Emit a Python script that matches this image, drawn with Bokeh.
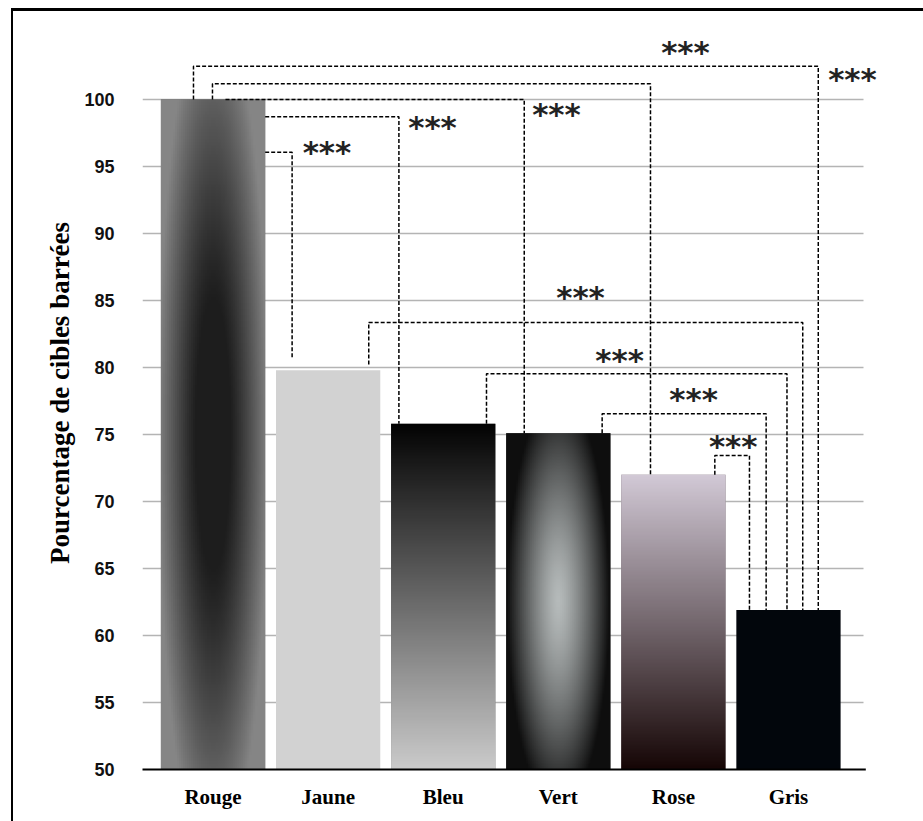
import numpy as np
from bokeh.plotting import figure
from bokeh.models import Range1d, FixedTicker, LabelSet, ColumnDataSource
from bokeh.core.properties import value
from bokeh.embed import file_html
from bokeh.resources import INLINE

# ---------------- data ----------------
categories = ["Rouge", "Jaune", "Bleu", "Vert", "Rose", "Gris"]
values = [100.0, 79.8, 75.8, 75.1, 72.0, 61.9]
y_ticks = [50, 55, 60, 65, 70, 75, 80, 85, 90, 95, 100]
# pairwise comparisons (index pairs) and their significance marks
comparisons = [(0, 1), (0, 2), (0, 3), (0, 4), (0, 5), (1, 5), (2, 5), (3, 5), (4, 5)]
sig_marks = ["***", "***", "***", "***", "***", "***", "***", "***", "***"]

# ---------------- layout / style ----------------
BAR_W = 0.906
BASE = 50
PX_PER_UNIT = 13.4
# bracket geometry: (dx_left from bar i, left bottom, top, dx_right from bar j, right bottom)
bracket_geom = [
    (0.453, "top", 96.07, -0.313, 80.67),
    (0.453, "top", 98.72, -0.385, None),
    (0.108, "top", 100.0, -0.296, None),
    (-0.005, None, 101.17, -0.199, None),
    (-0.170, None, 102.49, 0.259, None),
    (0.353, 80.22, 83.36, 0.124, None),
    (0.376, None, 79.53, -0.013, None),
    (0.381, None, 76.54, -0.194, None),
    (0.360, None, 73.43, -0.339, None),
]
mark_pos = [(0.990, 96.31), (1.907, 98.18), (2.984, 99.15), (4.105, 103.78), (5.556, 101.76),
            (3.193, 85.52), (3.532, 80.82), (4.175, 77.84), (4.520, 74.40)]

flat_colors = ["#4a4a4a", "#d2d2d2", "#6a6a6a", "#5a5a5a", "#756a70", "#02060c"]


def pack(r, g, b):
    ny, nx = r.shape
    img = np.empty((ny, nx), dtype=np.uint32)
    v = img.view(dtype=np.uint8).reshape((ny, nx, 4))
    v[:, :, 0] = np.clip(r, 0, 255)
    v[:, :, 1] = np.clip(g, 0, 255)
    v[:, :, 2] = np.clip(b, 0, 255)
    v[:, :, 3] = 255
    return img


def gradient(kind, nx=52, ny=220):
    s = np.linspace(-1, 1, nx)[None, :]
    t = np.linspace(0, 1, ny)[:, None]
    S = np.repeat(s, ny, axis=0)
    T = np.repeat(t, nx, axis=1)
    if kind == "radial_dark":
        r = np.sqrt(S ** 2 + ((T - 0.5) / 0.6) ** 2)
        f = np.clip((r - 0.33) / 0.75, 0, 1) ** 1.15
        c = 0x1d + (0x85 - 0x1d) * f
        return pack(c, c, c)
    if kind == "radial_light":
        r = np.sqrt(S ** 2 + ((T - 0.5) / 0.62) ** 2)
        f = np.clip(r, 0, 1) ** 1.35
        r_ = 0xb6 * (1 - f) + 0x0e * f
        g_ = 0xbb * (1 - f) + 0x0e * f
        b_ = 0xbb * (1 - f) + 0x0e * f
        return pack(r_, g_, b_)
    if kind == "linear_bleu":
        c = 0xcb + (0x03 - 0xcb) * T
        return pack(c, c, c)
    if kind == "linear_rose":
        top = np.array([0xd3, 0xca, 0xd7])
        bot = np.array([0x16, 0x06, 0x06])
        ch = [bot[k] + (top[k] - bot[k]) * T for k in range(3)]
        return pack(*ch)
    return None


gradients = ["radial_dark", None, "linear_bleu", "radial_light", "linear_rose", None]

idx = list(range(len(categories)))
X0, X1 = -0.613, 5.652          # extent of the gridded area
y_top = BASE + (769 - 14) / PX_PER_UNIT
y_bot = BASE - 2 / PX_PER_UNIT

p = figure(width=910, height=810, output_backend="svg", toolbar_location=None,
           x_range=Range1d(X0, 5.930), y_range=Range1d(y_bot, y_top),
           min_border_left=129, min_border_right=28, min_border_top=3, min_border_bottom=50,
           frame_width=753, frame_height=757)
p.outline_line_color = None
p.background_fill_color = "white"
p.border_fill_color = "white"
p.styles = {"margin-left": "11px", "margin-top": "8px",
            "border-top": "3px solid black", "border-left": "2px solid black"}

# horizontal gridlines (limited to the chart area)
p.segment(x0=X0, x1=X1, y0=y_ticks[1:], y1=y_ticks[1:], line_color="#b4b4b4", line_width=1.5)

# bars
src = ColumnDataSource(dict(x=idx, top=values, color=flat_colors))
p.vbar(x="x", top="top", bottom=BASE, width=BAR_W, fill_color="color", line_color=None, source=src)
for i, (v, g) in enumerate(zip(values, gradients)):
    if g is None:
        continue
    img = gradient(g)
    p.image_rgba(image=[img], x=i - BAR_W / 2, y=BASE, dw=BAR_W, dh=v - BASE)

# baseline (x axis line)
p.segment(x0=X0 - 0.02, x1=X1 + 0.02, y0=BASE, y1=BASE, line_color="black", line_width=2)

# brackets
xs, ys = [], []
for (i, j), (dxl, lb, top, dxr, rb) in zip(comparisons, bracket_geom):
    xl = i + dxl
    xr = j + dxr
    if lb == "top":
        lb_v = top
    elif lb is None:
        lb_v = values[i]
    else:
        lb_v = lb
    rb_v = values[j] if rb is None else rb
    xs.append([xl, xl, xr, xr])
    ys.append([lb_v, top, top, rb_v])
p.multi_line(xs=xs, ys=ys, line_color="black", line_width=1.5, line_dash="4 2")

# significance marks
msrc = ColumnDataSource(dict(x=[m[0] for m in mark_pos], y=[m[1] for m in mark_pos], text=sig_marks))
labels = LabelSet(x="x", y="y", text="text", source=msrc, text_align="center", text_baseline="middle",
                  y_offset=-3, text_font=value("DejaVu Sans"), text_font_style="bold",
                  text_font_size="31px", text_color="#222222")
p.add_layout(labels)

# axes
p.xaxis.ticker = FixedTicker(ticks=idx)
p.xaxis.major_label_overrides = {i: c for i, c in enumerate(categories)}
p.xaxis.major_tick_line_color = None
p.xaxis.minor_tick_line_color = None
p.xaxis.axis_line_color = None
p.xaxis.major_label_text_font = "Liberation Serif"
p.xaxis.major_label_text_font_style = "bold"
p.xaxis.major_label_text_font_size = "21px"
p.xaxis.major_label_text_color = "black"
p.xaxis.major_label_standoff = 7

p.yaxis.ticker = FixedTicker(ticks=y_ticks)
p.yaxis.axis_line_color = None
p.yaxis.major_tick_line_color = None
p.yaxis.minor_tick_line_color = None
p.yaxis.major_label_standoff = 22
p.yaxis.major_label_text_font = "Liberation Sans"
p.yaxis.major_label_text_font_style = "bold"
p.yaxis.major_label_text_font_size = "18px"
p.yaxis.major_label_text_color = "#111111"
p.yaxis.axis_label = "Pourcentage de cibles barrées"
p.yaxis.axis_label_text_font = "Liberation Serif"
p.yaxis.axis_label_text_font_style = "bold"
p.yaxis.axis_label_text_font_size = "27px"
p.yaxis.axis_label_text_color = "black"
p.yaxis.axis_label_standoff = 6

p.xgrid.grid_line_color = None
p.ygrid.grid_line_color = None

open("out.html", "w").write(file_html(p, INLINE))
